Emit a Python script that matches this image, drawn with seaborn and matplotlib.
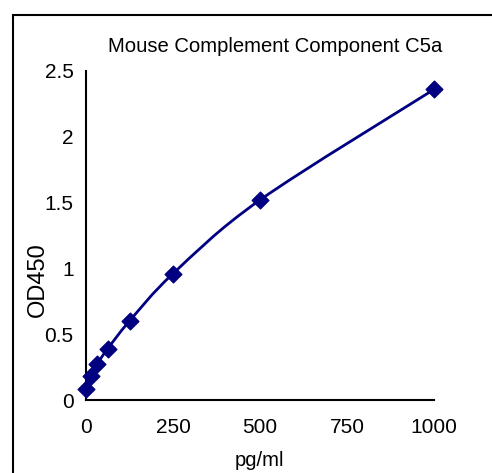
import numpy as np
import matplotlib
matplotlib.use("Agg")
import matplotlib.pyplot as plt
from matplotlib.path import Path
from matplotlib.patches import PathPatch, Rectangle
import seaborn as sns

# standard curve data
conc = [0, 15.6, 31.25, 62.5, 125, 250, 500, 1000]
od450 = [0.08, 0.18, 0.27, 0.39, 0.60, 0.96, 1.52, 2.36]
x_ticks = [0, 250, 500, 750, 1000]
y_ticks = [0, 0.5, 1, 1.5, 2, 2.5]
y_tick_labels = ["0", "0.5", "1", "1.5", "2", "2.5"]

title = "Mouse Complement Component C5a"
navy = "#000080"

sns.set_style("white")
plt.rcParams['font.family'] = ['Liberation Sans', 'DejaVu Sans']
plt.rcParams['text.color'] = 'black'

fig = plt.figure(figsize=(4.92, 4.73), dpi=100)
ax = fig.add_axes([86 / 492, 1 - 400 / 473, 348 / 492, 329 / 473])

# smoothed line through the points (Catmull-Rom -> cubic bezier)
pts = np.column_stack([conc, od450])
verts = [pts[0]]
codes = [Path.MOVETO]
for i in range(len(pts) - 1):
    p0 = pts[i - 1] if i > 0 else pts[i]
    p1 = pts[i]
    p2 = pts[i + 1]
    p3 = pts[i + 2] if i + 2 < len(pts) else pts[i + 1]
    c1 = p1 + (p2 - p0) / 6.0
    c2 = p2 - (p3 - p1) / 6.0
    verts += [c1, c2, p2]
    codes += [Path.CURVE4] * 3
ax.add_patch(PathPatch(Path(verts, codes), facecolor="none", edgecolor=navy, lw=2, zorder=2))

sns.scatterplot(x=conc, y=od450, marker="D", s=72, color=navy, edgecolor=navy,
                linewidth=1, ax=ax, zorder=3, clip_on=False)

ax.set_xlim(0, 1000)
ax.set_ylim(0, 2.5)
ax.set_xticks(x_ticks)
ax.set_yticks(y_ticks)
ax.set_yticklabels(y_tick_labels)
ax.tick_params(direction="in", length=6, width=1.5, colors="black", labelsize=15)
ax.tick_params(axis="x", pad=13)
ax.tick_params(axis="y", pad=9)
for side in ["top", "right"]:
    ax.spines[side].set_visible(False)
for side in ["left", "bottom"]:
    ax.spines[side].set_color("black")
    ax.spines[side].set_linewidth(1.5)

fig.text(275 / 492, 1 - 46 / 473, title, ha="center", va="center", fontsize=14.6, color="black")
fig.text(259 / 492, 1 - 460 / 473, "pg/ml", ha="center", va="center", fontsize=14.6, color="black")
fig.text(38 / 492, 1 - 280 / 473, "OD450", ha="center", va="center", rotation=90, fontsize=17,
         color="black")

# chart frame
fig.patches.append(Rectangle((13 / 492, -0.2), 1.2, 1.2 - 15 / 473, transform=fig.transFigure,
                             fill=False, edgecolor="black", linewidth=1.5))

fig.savefig("out.png", dpi=100)
